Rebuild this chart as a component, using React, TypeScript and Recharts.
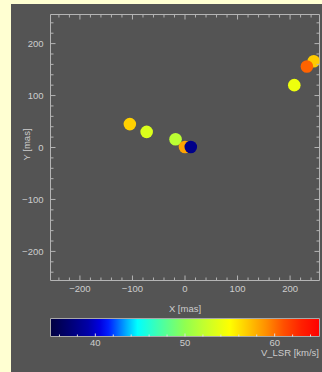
import { ScatterChart, Scatter, XAxis, YAxis, Cell, ComposedChart, ReferenceArea } from "recharts";

// maser spots: position (mas) and velocity (km/s), in drawing order
const spotX = [-105, -73, -18, 0, 11, 208, 245, 232];
const spotY = [45, 30, 16, 1, 1, 120, 166, 156];
const spotV = [56.7, 53.3, 51.8, 58.3, 38, 54.2, 56.9, 60.4];

const posTicks = [-240, -220, -200, -180, -160, -140, -120, -100, -80, -60, -40, -20, 0, 20, 40, 60, 80, 100, 120, 140, 160, 180, 200, 220, 240];
const velTicks = [36, 38, 40, 42, 44, 46, 48, 50, 52, 54, 56, 58, 60, 62, 64];
const velLabels = [40, 50, 60];

// colour table
const cmapV = [35, 37, 39.2, 40.5, 41.5, 43.5, 44.7, 47, 50, 52, 55, 57, 59, 61, 63, 65];
const cmapC = ["#000040", "#000070", "#0000a8", "#0000e0", "#0020ff", "#00b0ff", "#00ffff", "#40ffb0", "#90ff50", "#c0ff30", "#ffff00", "#ffc800", "#ff9000", "#ff5000", "#ff2000", "#ff0000"];

const AXIS = "#b4b4b4";
const TXT = "#cdcdcd";
const FONT = "'Liberation Sans', Arial, sans-serif";
const PANEL = "#545454";

function hex(c: string) {
  return [1, 3, 5].map((i) => parseInt(c.slice(i, i + 2), 16));
}

function colorFor(v: number): string {
  if (v <= cmapV[0]) return cmapC[0];
  for (let i = 1; i < cmapV.length; i++) {
    if (v <= cmapV[i]) {
      const t = (v - cmapV[i - 1]) / (cmapV[i] - cmapV[i - 1]);
      const a = hex(cmapC[i - 1]);
      const b = hex(cmapC[i]);
      const m = a.map((q, k) => Math.round(q + (b[k] - q) * t));
      return `rgb(${m[0]},${m[1]},${m[2]})`;
    }
  }
  return cmapC[cmapC.length - 1];
}

function fmt(v: number) {
  return v < 0 ? "\u2212" + Math.abs(v) : String(v);
}

const spots = spotX.map((x, i) => ({ x, y: spotY[i], v: spotV[i] }));
const barData = [{ v: 35 }, { v: 65 }];

function BottomTick(props: any) {
  const { x, y, payload } = props;
  const major = payload.value % 100 === 0;
  return (
    <g>
      <line x1={x} x2={x} y1={y} y2={y - (major ? 5 : 3)} stroke={AXIS} />
      {major && (
        <text x={x} y={y + 8.5} dy="0.35em" textAnchor="middle" fill={TXT} fontSize={9.5} fontFamily={FONT}>
          {fmt(payload.value)}
        </text>
      )}
    </g>
  );
}

function TopTick(props: any) {
  const { x, y, payload } = props;
  const major = payload.value % 100 === 0;
  return <line x1={x} x2={x} y1={y} y2={y + (major ? 5 : 3)} stroke={AXIS} />;
}

function LeftTick(props: any) {
  const { x, y, payload } = props;
  const major = payload.value % 100 === 0;
  return (
    <g>
      <line x1={x} x2={x + (major ? 5 : 3)} y1={y} y2={y} stroke={AXIS} />
      {major && (
        <text x={x - 7} y={y} dy="0.35em" textAnchor="end" fill={TXT} fontSize={9.5} fontFamily={FONT}>
          {fmt(payload.value)}
        </text>
      )}
    </g>
  );
}

function RightTick(props: any) {
  const { x, y, payload } = props;
  const major = payload.value % 100 === 0;
  return <line x1={x} x2={x - (major ? 5 : 3)} y1={y} y2={y} stroke={AXIS} />;
}

function BarBottomTick(props: any) {
  const { x, y, payload } = props;
  const major = velLabels.includes(payload.value);
  return (
    <g>
      <line x1={x} x2={x} y1={y} y2={y - (major ? 3 : 2)} stroke="#e0e0e0" />
      {major && (
        <text x={x} y={y + 6.5} dy="0.35em" textAnchor="middle" fill={TXT} fontSize={9.5} fontFamily={FONT}>
          {payload.value}
        </text>
      )}
    </g>
  );
}

function BarTopTick(props: any) {
  const { x, y, payload } = props;
  const major = velLabels.includes(payload.value);
  return <line x1={x} x2={x} y1={y} y2={y + (major ? 3 : 2)} stroke="#e0e0e0" />;
}

function Spot(props: any) {
  return <circle cx={props.cx} cy={props.cy} r={6.3} fill={props.fill} />;
}

function NoMark() {
  return <g />;
}

export default function App() {
  return (
    <div style={{ position: "absolute", left: 0, top: 0, width: 322, height: 372, background: "#ffffd2" }}>
      <div style={{ position: "absolute", left: 11, top: 4, width: 311, height: 368, background: PANEL }}>
        <div style={{ position: "absolute", left: 0, top: 0 }}>
          <ScatterChart width={311} height={320} margin={{ top: 9.5, right: 1.5, left: 0, bottom: 0 }}>
            <XAxis
              type="number"
              dataKey="x"
              domain={[-256, 256]}
              allowDataOverflow
              ticks={posTicks}
              interval={0}
              tickSize={0}
              tickMargin={0}
              tick={BottomTick}
              axisLine={{ stroke: AXIS }}
              tickLine={false}
              height={43.5}
              label={{
                content: ({ viewBox }: any) => (
                  <text x={viewBox.x + viewBox.width / 2} y={viewBox.y + 28} dy="0.35em" textAnchor="middle" fill={TXT} fontSize={9.5} fontFamily={FONT}>
                    X [mas]
                  </text>
                ),
              }}
            />
            <XAxis
              xAxisId="top"
              orientation="top"
              type="number"
              dataKey="x"
              domain={[-256, 256]}
              allowDataOverflow
              ticks={posTicks}
              interval={0}
              tickSize={0}
              tickMargin={0}
              tick={TopTick}
              axisLine={{ stroke: AXIS }}
              tickLine={false}
              height={1}
            />
            <YAxis
              type="number"
              dataKey="y"
              domain={[-256, 256]}
              allowDataOverflow
              ticks={posTicks}
              interval={0}
              tickSize={0}
              tickMargin={0}
              tick={LeftTick}
              axisLine={{ stroke: AXIS }}
              tickLine={false}
              width={39.5}
              label={{
                content: ({ viewBox }: any) => {
                  const cx = viewBox.x + 15.7;
                  const cy = viewBox.y + viewBox.height / 2 - 3;
                  return (
                    <text x={cx} y={cy} dy="0.35em" textAnchor="middle" fill={TXT} fontSize={9.5} fontFamily={FONT} transform={`rotate(-90 ${cx} ${cy})`}>
                      Y [mas]
                    </text>
                  );
                },
              }}
            />
            <YAxis
              yAxisId="right"
              orientation="right"
              type="number"
              dataKey="y"
              domain={[-256, 256]}
              allowDataOverflow
              ticks={posTicks}
              interval={0}
              tickSize={0}
              tickMargin={0}
              tick={RightTick}
              axisLine={{ stroke: AXIS }}
              tickLine={false}
              width={1}
            />
            {/* invisible copy so the top/right frame axes get drawn */}
            <Scatter data={spots} xAxisId="top" yAxisId="right" shape={NoMark} isAnimationActive={false} />
            <Scatter data={spots} shape={Spot} isAnimationActive={false}>
              {spots.map((s, i) => (
                <Cell key={i} fill={colorFor(s.v)} />
              ))}
            </Scatter>
          </ScatterChart>
        </div>
        <div style={{ position: "absolute", left: 0, top: 306 }}>
          <ComposedChart width={311} height={62} data={barData} margin={{ top: 8.5, right: 2.5, left: 39.5, bottom: 0 }}>
            <defs>
              <linearGradient id="vbar" x1="0" y1="0" x2="1" y2="0">
                {cmapV.map((v, i) => (
                  <stop key={i} offset={(v - 35) / 30} stopColor={cmapC[i]} />
                ))}
              </linearGradient>
            </defs>
            <XAxis
              type="number"
              dataKey="v"
              domain={[35, 65]}
              allowDataOverflow
              ticks={velTicks}
              interval={0}
              tickSize={0}
              tickMargin={0}
              tick={BarBottomTick}
              axisLine={false}
              tickLine={false}
              height={35.5}
              label={{
                content: ({ viewBox }: any) => (
                  <text x={viewBox.x + viewBox.width - 0.5} y={viewBox.y + 16.5} dy="0.35em" textAnchor="end" fill={TXT} fontSize={9.5} fontFamily={FONT}>
                    V_LSR [km/s]
                  </text>
                ),
              }}
            />
            <XAxis
              xAxisId="top"
              orientation="top"
              type="number"
              dataKey="v"
              domain={[35, 65]}
              allowDataOverflow
              ticks={velTicks}
              interval={0}
              tickSize={0}
              tickMargin={0}
              tick={BarTopTick}
              axisLine={false}
              tickLine={false}
              height={0}
            />
            <YAxis hide domain={[0, 1]} type="number" allowDataOverflow />
            <ReferenceArea x1={35} x2={65} y1={0} y2={1} fill="url(#vbar)" fillOpacity={1} stroke="#a8a8a8" strokeWidth={1} />
          </ComposedChart>
        </div>
      </div>
    </div>
  );
}
